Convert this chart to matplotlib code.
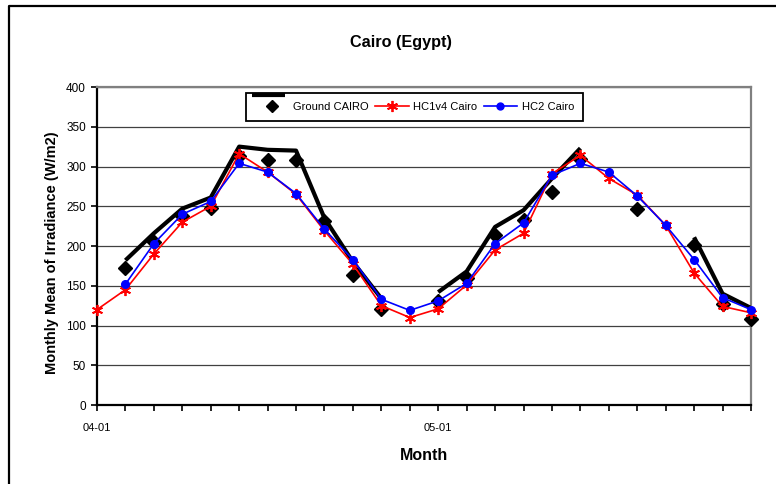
#
# Cairo monthly irradiance: ground vs. HC1v4 vs. HC2
#

import numpy as np
import matplotlib
matplotlib.use('Agg')
import matplotlib.pyplot as plt
from matplotlib.lines import Line2D

plt.rcParams['font.family'] = ['Liberation Sans', 'DejaVu Sans']

nan = np.nan

# 24 months, Jan 2004 .. Dec 2005
months = list(range(24))
tick_labels = {0: '04-01', 12: '05-01'}

# thick black curve (drawn in gaps like the original)
ground_line = [nan, 182, 216, 247, 261, 325, 321, 320, 235, 180, 134, nan,
               142, 168, 224, 245, 285, 323, nan, nan, nan, 211, 140, 122]
ground_pts = [nan, 172, 205, 238, 248, 313, 308, 308, 232, 163, 121, nan,
              131, 160, 214, 233, 268, 310, nan, 247, nan, 201, 127, 108]
hc1v4 = [120, 145, 190, 230, 250, 316, 293, 265, 219, 177, 125, 110,
         121, 151, 195, 216, 291, 314, 285, 264, 226, 166, 124, 116]
hc2 = [nan, 152, 203, 240, 256, 304, 293, 266, 221, 183, 133, 119,
       131, 153, 203, 229, 289, 304, 293, 263, 226, 183, 135, 120]

W, H = 776, 484
fig = plt.figure(figsize=(W / 100, H / 100), dpi=100)
ax = fig.add_axes([97 / W, 1 - 405 / H, 654 / W, 318 / H])

star = (6, 2, 0)
ax.plot(months, ground_line, color='black', lw=3, solid_capstyle='butt',
        zorder=3)
ax.plot(months, ground_pts, ls='none', marker='D', ms=7.5, color='black',
        zorder=4, clip_on=False)
ax.plot(months, hc1v4, color='red', lw=1.2, marker=star, ms=8, mew=1.3,
        zorder=5, clip_on=False)
ax.plot(months, hc2, color='blue', lw=1.2, marker='o', ms=5.5, zorder=6,
        clip_on=False)

ax.set_xlim(0, 23)
ax.set_ylim(0, 400)
ax.set_yticks(range(0, 401, 50))
ax.set_xticks(months)
ax.set_xticklabels([tick_labels.get(m, '') for m in months])
ax.tick_params(axis='x', direction='out', length=4, width=1.2, pad=9,
               labelsize=8)
ax.tick_params(axis='y', direction='out', length=4, width=1.2, pad=4,
               labelsize=8.5)
ax.grid(axis='y', color='#404040', lw=0.9)
ax.set_axisbelow(True)

for side in ('left', 'bottom'):
    ax.spines[side].set_color('black')
    ax.spines[side].set_linewidth(1.6)
for side in ('top', 'right'):
    ax.spines[side].set_color('#808080')
    ax.spines[side].set_linewidth(1.6)

fig.text(52 / W, 1 - 253 / H, 'Monthly Mean of Irradiance (W/m2)',
         rotation=90, ha='center', va='center', fontsize=10.5,
         fontweight='bold')
fig.text(424 / W, 1 - 455 / H, 'Month', ha='center', va='center',
         fontsize=11.5, fontweight='bold')
fig.text(401 / W, 1 - 42 / H, 'Cairo (Egypt)', ha='center', va='center',
         fontsize=11.7, fontweight='bold')

handles = [
    Line2D([], [], ls='none', marker='D', ms=6.5, color='black'),
    Line2D([], [], color='red', lw=1.2, marker=star, ms=8, mew=1.3),
    Line2D([], [], color='blue', lw=1.2, marker='o', ms=5),
]
leg = ax.legend(handles, ['Ground CAIRO', 'HC1v4 Cairo', 'HC2 Cairo'],
                ncol=3, loc='upper center', bbox_to_anchor=(0.4855, 0.981),
                fontsize=8, frameon=True, fancybox=False, framealpha=1,
                edgecolor='black', handlelength=3.0, columnspacing=0.6,
                handletextpad=0.4, borderpad=0.8, borderaxespad=0)
leg.get_frame().set_linewidth(1.3)
leg.set_zorder(10)

# leftover piece of the thick-line legend key sitting on the legend border
fig.add_artist(Line2D([252 / W, 285 / W], [1 - 94.5 / H, 1 - 94.5 / H],
                      color='black', lw=3, solid_capstyle='butt', zorder=20))

# chart-area border (runs off the right and bottom edges)
fig.add_artist(Line2D([9 / W, 9 / W, 1], [0, 1 - 6 / H, 1 - 6 / H],
                      color='black', lw=1.6))

fig.savefig('out.png', dpi=100)
